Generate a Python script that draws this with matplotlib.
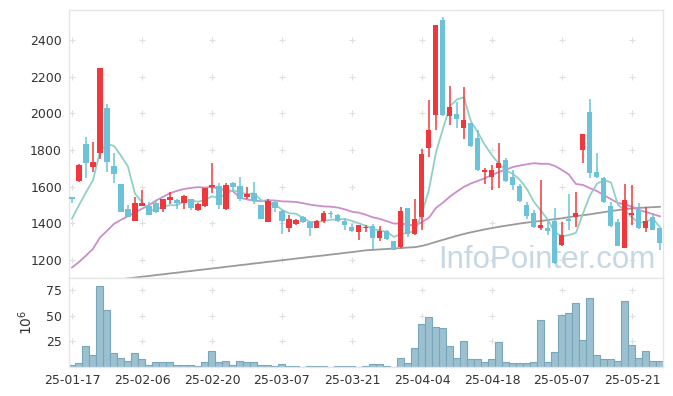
# Candlestick chart with moving averages and volume panel

import numpy as np
import pandas as pd
import matplotlib.pyplot as plt

# Data

tick_pos = [0, 10, 20, 30, 40, 50, 60, 70, 80]
tick_labels = ['25-01-17', '25-02-06', '25-02-20', '25-03-07', '25-03-21',
               '25-04-04', '25-04-18', '25-05-07', '25-05-21']

opens = [1545, 1633, 1833, 1709, 1782, 2029, 1713, 1614, 1477, 1414,
         1496, 1498, 1509, 1478, 1529, 1527, 1511, 1531, 1473, 1495,
         1598, 1604, 1478, 1620, 1604, 1545, 1567, 1500, 1409, 1518,
         1469, 1376, 1398, 1433, 1409, 1376, 1414, 1455, 1445, 1414,
         1380, 1353, 1376, 1385, 1322, 1358, 1304, 1273, 1482, 1345,
         1433, 1809, 1991, 2509, 1985, 1996, 1918, 1945, 1864, 1682,
         1654, 1700, 1745, 1651, 1607, 1500, 1455, 1376, 1378, 1414,
         1282, 1427, 1433, 1800, 2007, 1680, 1646, 1495, 1409, 1269,
         1445, 1473, 1373, 1436, 1373]
highs = [1547, 1722, 1869, 1842, 2248, 2051, 1782, 1616, 1500, 1545,
         1585, 1518, 1527, 1536, 1573, 1536, 1555, 1533, 1514, 1596,
         1727, 1622, 1622, 1626, 1651, 1597, 1627, 1502, 1536, 1527,
         1476, 1445, 1427, 1440, 1414, 1418, 1469, 1467, 1451, 1427,
         1396, 1393, 1391, 1396, 1385, 1364, 1306, 1491, 1487, 1536,
         1804, 2073, 2484, 2527, 2149, 2064, 2142, 1950, 1909, 1700,
         1718, 1836, 1755, 1691, 1615, 1518, 1473, 1636, 1427, 1482,
         1409, 1558, 1573, 1890, 2076, 1782, 1651, 1518, 1427, 1615,
         1609, 1509, 1491, 1455, 1375]
lows = [1512, 1628, 1646, 1682, 1749, 1682, 1618, 1460, 1433, 1412,
        1494, 1445, 1458, 1460, 1505, 1477, 1477, 1473, 1466, 1491,
        1564, 1480, 1476, 1582, 1524, 1536, 1505, 1422, 1407, 1464,
        1345, 1354, 1391, 1400, 1331, 1373, 1404, 1431, 1409, 1367,
        1351, 1309, 1354, 1262, 1304, 1309, 1255, 1269, 1324, 1336,
        1364, 1764, 1909, 1985, 1936, 1922, 1860, 1818, 1685, 1613,
        1582, 1591, 1627, 1585, 1518, 1427, 1378, 1364, 1336, 1178,
        1280, 1367, 1382, 1727, 1646, 1649, 1513, 1382, 1276, 1267,
        1391, 1371, 1354, 1362, 1258]
closes = [1535, 1718, 1731, 1733, 2246, 1736, 1669, 1463, 1436, 1509,
          1509, 1449, 1463, 1533, 1544, 1511, 1549, 1484, 1505, 1593,
          1609, 1502, 1609, 1597, 1531, 1560, 1524, 1427, 1524, 1485,
          1414, 1427, 1418, 1406, 1376, 1414, 1455, 1452, 1413, 1391,
          1358, 1391, 1382, 1322, 1358, 1313, 1258, 1467, 1345, 1424,
          1778, 1909, 2482, 1991, 2033, 1967, 1964, 1822, 1691, 1691,
          1691, 1731, 1633, 1609, 1524, 1440, 1382, 1391, 1360, 1182,
          1336, 1414, 1455, 1887, 1676, 1651, 1518, 1387, 1278, 1527,
          1455, 1373, 1414, 1364, 1291]

# volume in millions
volume = [2, 4, 20.4, 11.7, 79, 55.4, 13.9, 8.7, 6.1, 13.6,
          8, 2, 5.2, 5.2, 5.2, 2, 2, 2, 1, 5.2,
          15.9, 5.2, 6, 2, 6, 5.2, 5.2, 2, 2, 1,
          3.3, 1.3, 1.3, 0, 1, 1, 1, 0, 1, 1,
          1, 0, 1, 2.5, 2.5, 1, 0, 9, 3.9, 18.8,
          41.8, 48.6, 38.9, 37.9, 20.4, 8.7, 25.3, 7.8, 7.8, 4.9,
          7.8, 24.3, 4.9, 3.9, 3.9, 3.9, 4.9, 45.7, 4.9, 14.6,
          50.6, 52.5, 62.3, 26.3, 67.1, 11.7, 7.8, 7.8, 5.8, 64.2,
          21.4, 8.7, 15.6, 5.8, 5.8]

# moving average values before the window fills (depend on earlier prices)
ma5_head = [1427, 1500, 1570, 1636]
ma20_head = [1160, 1190, 1225, 1262, 1324, 1360, 1398, 1420, 1440, 1460,
             1480, 1500, 1525, 1545, 1565, 1578, 1588, 1594, 1598]
# long moving average, read directly
ma_long = [1065, 1069, 1074, 1078, 1083, 1087, 1092, 1096, 1101, 1105,
           1110, 1114, 1119, 1123, 1128, 1132, 1137, 1141, 1146, 1150,
           1155, 1159, 1164, 1168, 1173, 1177, 1182, 1186, 1191, 1195,
           1200, 1204, 1209, 1213, 1218, 1222, 1226, 1231, 1235, 1240,
           1244, 1249, 1254, 1256, 1259, 1261, 1264, 1266, 1269, 1271,
           1278, 1288, 1300, 1311, 1322, 1333, 1343, 1352, 1360, 1368,
           1375, 1382, 1388, 1394, 1400, 1405, 1410, 1414, 1419, 1424,
           1428, 1435, 1440, 1445, 1450, 1456, 1462, 1468, 1473, 1478,
           1482, 1485, 1487, 1489, 1491]

o = np.array(opens, float)
h = np.array(highs, float)
l = np.array(lows, float)
c = np.array(closes, float)
x = np.arange(len(c))

cs = pd.Series(c)
ma5 = cs.rolling(5).mean().values
ma5[:len(ma5_head)] = ma5_head
ma20 = cs.rolling(20).mean().values
ma20[:len(ma20_head)] = ma20_head

# Figure

RED = '#f0383c'
BLUE = '#6cc3d9'
GRID = '#e0e0e0'
SPINE = '#e6e6e6'

fig = plt.figure(figsize=(6.73, 3.96), dpi=100)
ax1 = fig.add_axes([0.1025, 0.298, 0.8826, 0.677])
ax2 = fig.add_axes([0.1025, 0.0732, 0.8826, 0.2247], sharex=ax1)

up = c >= o
col = np.where(up, RED, BLUE)

# moving averages
ax1.plot(x, ma_long, color='#9a9a9a', lw=1.3, zorder=2)
ax1.plot(x, ma20, color='#cc8dcc', lw=1.3, zorder=2)
ax1.plot(x, ma5, color='#92d0c6', lw=1.3, zorder=2)

# candles
ax1.vlines(x, l, h, colors=col, lw=1.1, zorder=3)
body = np.maximum(np.abs(c - o), 4)
ax1.bar(x, body, bottom=np.minimum(o, c), width=0.72, color=col, zorder=4)

ax1.text(0.987, 0.037, 'InfoPointer.com', transform=ax1.transAxes,
         ha='right', va='baseline', fontsize=22.5, family='Liberation Sans',
         color='#c5d8e4', zorder=1)

ax1.set_ylim(1103, 2564)
ax1.set_xlim(-0.43, 84.43)
yt = [1200, 1400, 1600, 1800, 2000, 2200, 2400]
ax1.set_yticks(yt)
xx, yy = np.meshgrid(tick_pos, yt)
ax1.scatter(xx.ravel(), yy.ravel(), marker='+', s=16, color=GRID, lw=0.8, zorder=0)

# volume
ax2.bar(x, volume, width=1.0, color='#9bc1d1', edgecolor='#79a6ba', lw=0.8, zorder=2)
ax2.set_ylim(0, 87)
vt = [25, 50, 75]
ax2.set_yticks(vt)
xx, yy = np.meshgrid(tick_pos, vt)
ax2.scatter(xx.ravel(), yy.ravel(), marker='+', s=16, color=GRID, lw=0.8, zorder=0)
ax2.set_ylabel('$10^6$', fontsize=10, color='#333333', labelpad=8)

ax2.set_xticks(tick_pos)
ax2.set_xticklabels(tick_labels)

for ax in (ax1, ax2):
    for s in ax.spines.values():
        s.set_color(SPINE)
        s.set_linewidth(1.0)
    ax.tick_params(length=0, labelsize=9, colors='#333333', pad=5)
plt.setp(ax1.get_xticklabels(), visible=False)

fig.savefig('out.png', dpi=100)
